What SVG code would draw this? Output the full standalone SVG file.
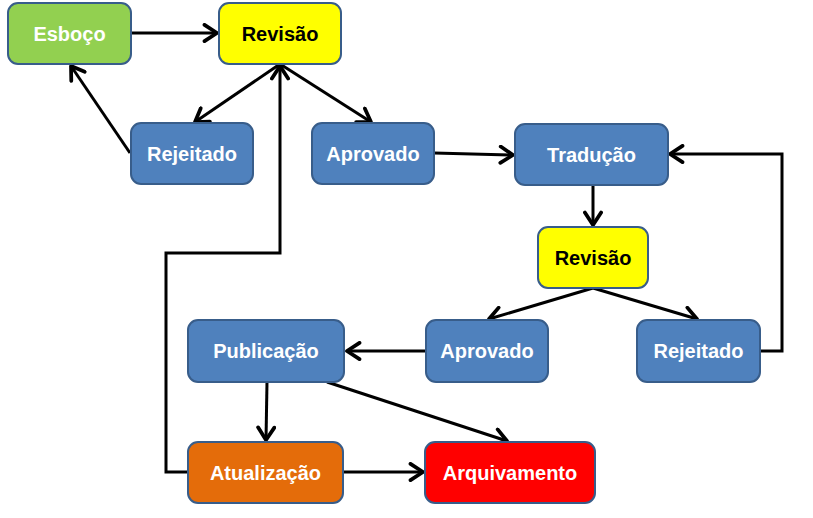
<svg xmlns="http://www.w3.org/2000/svg" width="813" height="518" viewBox="0 0 813 518">
<style>
.n rect{stroke:#385D8A;stroke-width:2}
.blue rect{fill:#4F81BD}
.green rect{fill:#92D050}
.yellow rect{fill:#FFFF00}
.orange rect{fill:#E46C0A}
.red rect{fill:#FF0000}
.n text{font-family:"Liberation Sans",Arial,sans-serif;font-weight:bold;font-size:20px;fill:#FFFFFF;text-anchor:middle;dominant-baseline:central}
.yellow text{fill:#000000}
.c path{fill:none;stroke:#000000;stroke-width:3;marker-end:url(#a)}
</style>
<defs>
<marker id="a" markerUnits="userSpaceOnUse" markerWidth="20" markerHeight="20" viewBox="-12 -8 14 16" refX="0" refY="0" orient="auto">
<path d="M-10,-6.5 L0,0 L-10,6.5" fill="none" stroke="#000000" stroke-width="3" stroke-linecap="round" stroke-linejoin="round"/>
</marker>
</defs>
<rect width="813" height="518" fill="#FFFFFF"/>
<g class="c">
<path d="M131,33 L217,33"/>
<path d="M280,64 L195,122"/>
<path d="M130,153 L71,66"/>
<path d="M280,64 L371,122"/>
<path d="M188,472 L166,472 L166,253 L280,253 L280,66"/>
<path d="M434,153 L513,155"/>
<path d="M593,185 L593,225"/>
<path d="M593,288 L489,319"/>
<path d="M593,288 L697,319"/>
<path d="M760,351 L782,351 L782,154 L670,154"/>
<path d="M426,351 L347,351"/>
<path d="M267,382 L266,440"/>
<path d="M327,382 L507,441"/>
<path d="M343,472 L423,472"/>
</g>
<g id="esboco" class="n green"><rect x="8" y="3" width="123" height="61" rx="10"/><text x="69.5" y="33.5">Esboço</text></g>
<g id="revisao1" class="n yellow"><rect x="219" y="3" width="122" height="61" rx="10"/><text x="280" y="33.5">Revisão</text></g>
<g id="rejeitado1" class="n blue"><rect x="131" y="123" width="122" height="61" rx="10"/><text x="192" y="153.5">Rejeitado</text></g>
<g id="aprovado1" class="n blue"><rect x="312" y="123" width="122" height="61" rx="10"/><text x="373" y="153.5">Aprovado</text></g>
<g id="traducao" class="n blue"><rect x="515" y="124" width="153" height="61" rx="10"/><text x="591.5" y="154.5">Tradução</text></g>
<g id="revisao2" class="n yellow"><rect x="538" y="227" width="110" height="61" rx="10"/><text x="593" y="257.5">Revisão</text></g>
<g id="publicacao" class="n blue"><rect x="188" y="320" width="156" height="62" rx="10"/><text x="266" y="351">Publicação</text></g>
<g id="aprovado2" class="n blue"><rect x="426" y="320" width="122" height="62" rx="10"/><text x="487" y="351">Aprovado</text></g>
<g id="rejeitado2" class="n blue"><rect x="637" y="320" width="123" height="62" rx="10"/><text x="698.5" y="351">Rejeitado</text></g>
<g id="atualizacao" class="n orange"><rect x="188" y="442" width="155" height="61" rx="10"/><text x="265.5" y="472.5">Atualização</text></g>
<g id="arquivamento" class="n red"><rect x="425" y="442" width="170" height="61" rx="10"/><text x="510" y="472.5">Arquivamento</text></g>
</svg>
